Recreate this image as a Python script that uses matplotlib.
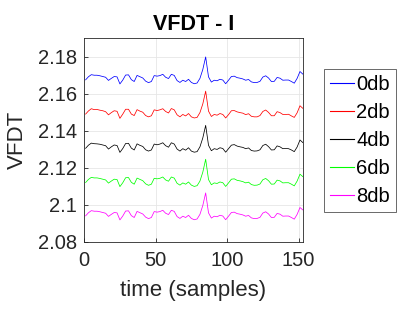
import matplotlib
matplotlib.use("Agg")
import matplotlib.pyplot as plt
import numpy as np

plt.rcParams['font.family'] = ['Liberation Sans', 'DejaVu Sans']

# sample index (every second sample)
samples = list(range(1, 154, 2))

# VFDT values, one list per noise level
vfdt_0db = [2.1674, 2.1691, 2.1702, 2.1699, 2.1699, 2.1696, 2.1692, 2.1688, 2.1671, 2.1682,
            2.1692, 2.1690, 2.1652, 2.1673, 2.1700, 2.1701, 2.1675, 2.1665, 2.1698, 2.1691,
            2.1684, 2.1667, 2.1659, 2.1665, 2.1697, 2.1694, 2.1697, 2.1704, 2.1688, 2.1681,
            2.1704, 2.1698, 2.1670, 2.1660, 2.1672, 2.1665, 2.1677, 2.1660, 2.1653, 2.1657,
            2.1682, 2.1730, 2.1798, 2.1690, 2.1662, 2.1672, 2.1669, 2.1677, 2.1673, 2.1653,
            2.1672, 2.1692, 2.1694, 2.1686, 2.1683, 2.1679, 2.1672, 2.1676, 2.1663, 2.1659,
            2.1660, 2.1666, 2.1689, 2.1696, 2.1684, 2.1665, 2.1666, 2.1687, 2.1683, 2.1672,
            2.1673, 2.1673, 2.1665, 2.1656, 2.1682, 2.1719, 2.1705]
vfdt_2db = [2.1489, 2.1506, 2.1518, 2.1513, 2.1514, 2.1510, 2.1507, 2.1502, 2.1485, 2.1497,
            2.1507, 2.1504, 2.1466, 2.1489, 2.1515, 2.1515, 2.1489, 2.1481, 2.1513, 2.1505,
            2.1499, 2.1481, 2.1474, 2.1480, 2.1512, 2.1508, 2.1512, 2.1518, 2.1503, 2.1495,
            2.1519, 2.1512, 2.1485, 2.1474, 2.1487, 2.1479, 2.1492, 2.1474, 2.1468, 2.1471,
            2.1497, 2.1544, 2.1613, 2.1505, 2.1476, 2.1487, 2.1483, 2.1492, 2.1487, 2.1468,
            2.1486, 2.1507, 2.1508, 2.1501, 2.1497, 2.1494, 2.1486, 2.1491, 2.1477, 2.1474,
            2.1474, 2.1481, 2.1503, 2.1511, 2.1498, 2.1480, 2.1480, 2.1502, 2.1497, 2.1487,
            2.1487, 2.1488, 2.1479, 2.1471, 2.1496, 2.1534, 2.1520]
vfdt_4db = [2.1304, 2.1321, 2.1332, 2.1329, 2.1328, 2.1326, 2.1322, 2.1318, 2.1300, 2.1312,
            2.1322, 2.1319, 2.1282, 2.1303, 2.1330, 2.1331, 2.1305, 2.1295, 2.1328, 2.1320,
            2.1314, 2.1296, 2.1289, 2.1295, 2.1327, 2.1323, 2.1327, 2.1334, 2.1318, 2.1310,
            2.1334, 2.1327, 2.1300, 2.1289, 2.1302, 2.1294, 2.1307, 2.1289, 2.1283, 2.1286,
            2.1312, 2.1360, 2.1428, 2.1320, 2.1291, 2.1302, 2.1298, 2.1307, 2.1303, 2.1283,
            2.1302, 2.1321, 2.1324, 2.1316, 2.1312, 2.1309, 2.1302, 2.1306, 2.1292, 2.1289,
            2.1290, 2.1296, 2.1319, 2.1326, 2.1313, 2.1295, 2.1296, 2.1317, 2.1312, 2.1302,
            2.1303, 2.1302, 2.1295, 2.1286, 2.1311, 2.1349, 2.1335]
vfdt_6db = [2.1119, 2.1136, 2.1147, 2.1144, 2.1144, 2.1141, 2.1137, 2.1133, 2.1116, 2.1127,
            2.1137, 2.1135, 2.1097, 2.1118, 2.1145, 2.1146, 2.1120, 2.1110, 2.1143, 2.1136,
            2.1129, 2.1112, 2.1104, 2.1110, 2.1142, 2.1139, 2.1142, 2.1149, 2.1133, 2.1126,
            2.1149, 2.1143, 2.1115, 2.1105, 2.1117, 2.1110, 2.1122, 2.1105, 2.1098, 2.1102,
            2.1127, 2.1175, 2.1245, 2.1135, 2.1107, 2.1117, 2.1114, 2.1122, 2.1118, 2.1098,
            2.1117, 2.1137, 2.1139, 2.1131, 2.1128, 2.1124, 2.1117, 2.1121, 2.1108, 2.1104,
            2.1105, 2.1111, 2.1134, 2.1141, 2.1129, 2.1110, 2.1111, 2.1132, 2.1128, 2.1117,
            2.1118, 2.1118, 2.1110, 2.1101, 2.1127, 2.1164, 2.1151]
vfdt_8db = [2.0939, 2.0956, 2.0967, 2.0964, 2.0964, 2.0961, 2.0957, 2.0953, 2.0936, 2.0947,
            2.0957, 2.0955, 2.0917, 2.0938, 2.0965, 2.0966, 2.0940, 2.0930, 2.0963, 2.0956,
            2.0949, 2.0932, 2.0924, 2.0930, 2.0962, 2.0959, 2.0962, 2.0969, 2.0953, 2.0946,
            2.0969, 2.0963, 2.0935, 2.0925, 2.0937, 2.0930, 2.0942, 2.0925, 2.0918, 2.0922,
            2.0947, 2.0995, 2.1063, 2.0955, 2.0927, 2.0937, 2.0934, 2.0942, 2.0938, 2.0918,
            2.0937, 2.0957, 2.0959, 2.0951, 2.0948, 2.0944, 2.0937, 2.0941, 2.0928, 2.0924,
            2.0925, 2.0931, 2.0954, 2.0961, 2.0949, 2.0930, 2.0931, 2.0952, 2.0948, 2.0937,
            2.0938, 2.0938, 2.0930, 2.0921, 2.0947, 2.0984, 2.0971]

labels = ['0db', '2db', '4db', '6db', '8db']
series = [vfdt_0db, vfdt_2db, vfdt_4db, vfdt_6db, vfdt_8db]
colors = ['#0000ff', '#ff0000', '#000000', '#00ff00', '#ff00ff']

fig = plt.figure(figsize=(3.99, 3.17), dpi=100)
ax = fig.add_axes([0.211, 0.238, 0.548, 0.642])

for vals, lab, col in zip(series, labels, colors):
    ax.plot(samples, vals, color=col, lw=0.55, label=lab)

ax.set_xlim(0, 153)
ax.set_ylim(2.08, 2.19)
ax.set_xticks([0, 50, 100, 150])
ax.set_yticks([2.08, 2.10, 2.12, 2.14, 2.16, 2.18])
ax.set_yticklabels(['2.08', '2.1', '2.12', '2.14', '2.16', '2.18'])
ax.grid(True, color='#e6e6e6', lw=0.6)
ax.set_axisbelow(True)
ax.tick_params(direction='in', length=3, labelsize=14.5, colors='#262626', width=0.6)
ax.tick_params(axis='x', pad=7)
ax.tick_params(axis='y', pad=5)
for sp in ax.spines.values():
    sp.set_color('#262626')
    sp.set_linewidth(0.6)

ax.set_title('VFDT - I', fontsize=15.5, fontweight='bold', color='black', pad=6)
ax.set_xlabel('time (samples)', fontsize=16, color='#262626', labelpad=7)
ax.set_ylabel('VFDT', fontsize=16, color='#262626', labelpad=7)

leg = fig.legend(loc='upper left', bbox_to_anchor=(0.812, 0.782), fontsize=14.5,
                 frameon=True, fancybox=False, handlelength=1.2, handletextpad=0.1,
                 borderpad=0.3, labelspacing=0.44, borderaxespad=0)
leg.get_frame().set_edgecolor('#262626')
leg.get_frame().set_linewidth(0.6)
for h in leg.get_lines():
    h.set_linewidth(0.8)

fig.savefig('out.png', dpi=100)
